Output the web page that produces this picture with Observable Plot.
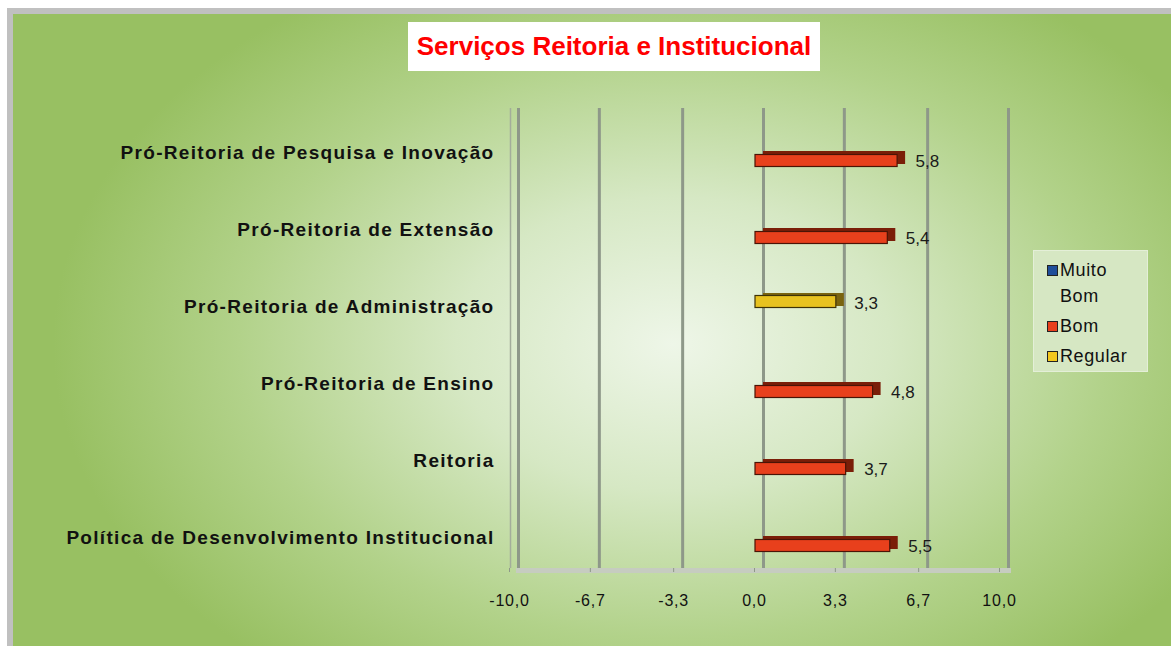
<!DOCTYPE html>
<html>
<head>
<meta charset="utf-8">
<script src="https://cdn.jsdelivr.net/npm/d3@7"></script>
<script src="https://cdn.jsdelivr.net/npm/@observablehq/plot@0.6"></script>
<style>
  html, body { margin: 0; padding: 0; background: #fff; }
  #wrap { position: relative; width: 1171px; height: 646px; overflow: hidden; font-family: "Liberation Sans", Arial, sans-serif; }
  #edgeTop { position: absolute; left: 7px; top: 8px; width: 1164px; height: 6px; background: #c0c0c0; }
  #edgeLeft { position: absolute; left: 7px; top: 8px; width: 6px; height: 638px; background: #c0c0c0; }
  #bg { position: absolute; left: 13px; top: 14px; width: 1158px; height: 632px;
        background: radial-gradient(ellipse 620px 420px at 660px 330px, #eef6e8 0%, #d6e8c4 35%, #b2d28a 70%, #98c062 100%); }
  #chart { position: absolute; left: 0; top: 0; }
  #title { position: absolute; left: 408px; top: 22px; width: 412px; height: 49px; background: #fff;
           color: #ff0000; font-weight: bold; font-size: 26px; line-height: 49px; text-align: center; white-space: nowrap; }
  #legend { position: absolute; left: 1033px; top: 250px; width: 115px; height: 122px; background: #d6e7c3;
            border: 1px solid #e4efd8; box-sizing: border-box; padding: 6px 0 0 13px; font-size: 18px; color: #111; letter-spacing: 0.6px; }
  .li { display: flex; align-items: flex-start; line-height: 26px; margin-bottom: 4px; }
  .sw { width: 9px; height: 9px; border: 1px solid #222; margin: 8px 2px 0 0; flex: none; }
  #chart svg g[aria-label="y-axis tick label"] text { letter-spacing: 1.3px; }
  #chart svg g[aria-label="x-axis tick label"] text { letter-spacing: 0.8px; }
</style>
</head>
<body>
<div id="wrap">
  <div id="edgeTop"></div>
  <div id="edgeLeft"></div>
  <div id="bg"></div>
  <div id="chart"></div>
  <div id="title">Serviços Reitoria e Institucional</div>
  <div id="legend"></div>
</div>
<script>
const categories = [
  "Pró-Reitoria de Pesquisa e Inovação",
  "Pró-Reitoria de Extensão",
  "Pró-Reitoria de Administração",
  "Pró-Reitoria de Ensino",
  "Reitoria",
  "Política de Desenvolvimento Institucional"
];
const values = [5.8, 5.4, 3.3, 4.8, 3.7, 5.5];
const ratings = ["Bom", "Bom", "Regular", "Bom", "Bom", "Bom"];
const xTicks = [-10, -6.7, -3.3, 0, 3.3, 6.7, 10];
const legendLabels = ["Muito Bom", "Bom", "Regular"];
const legendColors = ["#1f4e9a", "#e8401c", "#f3c81e"];

const data = categories.map((c, i) => ({category: c, value: values[i], rating: ratings[i]}));
const bom = data.filter(d => d.rating === "Bom");
const reg = data.filter(d => d.rating === "Regular");
const fmt = v => v.toFixed(1).replace(".", ",");

const chart = Plot.plot({
  width: 1171,
  height: 646,
  marginLeft: 518,
  marginRight: 163,
  marginTop: 108,
  marginBottom: 78,
  style: {background: "transparent", fontFamily: "'Liberation Sans', Arial, sans-serif", overflow: "visible"},
  x: {domain: [-10, 10], label: null},
  y: {type: "band", domain: categories, padding: 0, insetTop: 5.5, insetBottom: -7.5, label: null},
  marks: [
    Plot.gridX(xTicks, {stroke: "#8e9889", strokeOpacity: 1, strokeWidth: 3}),
    Plot.ruleX([xTicks[0]], {dx: -8, stroke: "#a3ad9b", strokeWidth: 1.5}),
    Plot.frame({anchor: "bottom", stroke: "#c6ccc0", strokeWidth: 5, dy: 2}),
    // Bom bars (back face for depth, then front face)
    Plot.barX(bom, {x1: 0, x2: "value", y: "category", fill: "#7a1e08", insetTop: 37, insetBottom: 27}),
    Plot.barX(bom, {x1: 0, x2: "value", y: "category", fill: "#e8401c", stroke: "#4a1406", strokeWidth: 1.2, dx: -8, insetTop: 40.5, insetBottom: 24.5}),
    // Regular bars
    Plot.barX(reg, {x1: 0, x2: "value", y: "category", fill: "#7a6410", insetTop: 25, insetBottom: 39}),
    Plot.barX(reg, {x1: 0, x2: "value", y: "category", fill: "#e8c220", stroke: "#3e3208", strokeWidth: 1.2, dx: -8, insetTop: 27.5, insetBottom: 37.5}),
    Plot.text(bom, {x: "value", y: "category", text: d => fmt(d.value), dx: 10, dy: 9, textAnchor: "start", fontSize: 17, fill: "#1a1a1a"}),
    Plot.text(reg, {x: "value", y: "category", text: d => fmt(d.value), dx: 10, dy: -3, textAnchor: "start", fontSize: 17, fill: "#1a1a1a"}),
    Plot.axisX(xTicks, {tickSize: 4, tickPadding: 22, tickFormat: fmt, fontSize: 16, stroke: "#8e9889", fill: "#111", label: null, dx: -9}),
    Plot.axisY({tickSize: 0, tickPadding: 24, fontSize: 19, fontWeight: "bold", fill: "#111", label: null})
  ]
});
document.getElementById("chart").appendChild(chart);

const legend = document.getElementById("legend");
legendLabels.forEach((l, i) => {
  const row = document.createElement("div");
  row.className = "li";
  const sw = document.createElement("span");
  sw.className = "sw";
  sw.style.background = legendColors[i];
  const t = document.createElement("span");
  t.textContent = l;
  t.style.width = "60px";
  row.appendChild(sw);
  row.appendChild(t);
  legend.appendChild(row);
});
</script>
</body>
</html>
